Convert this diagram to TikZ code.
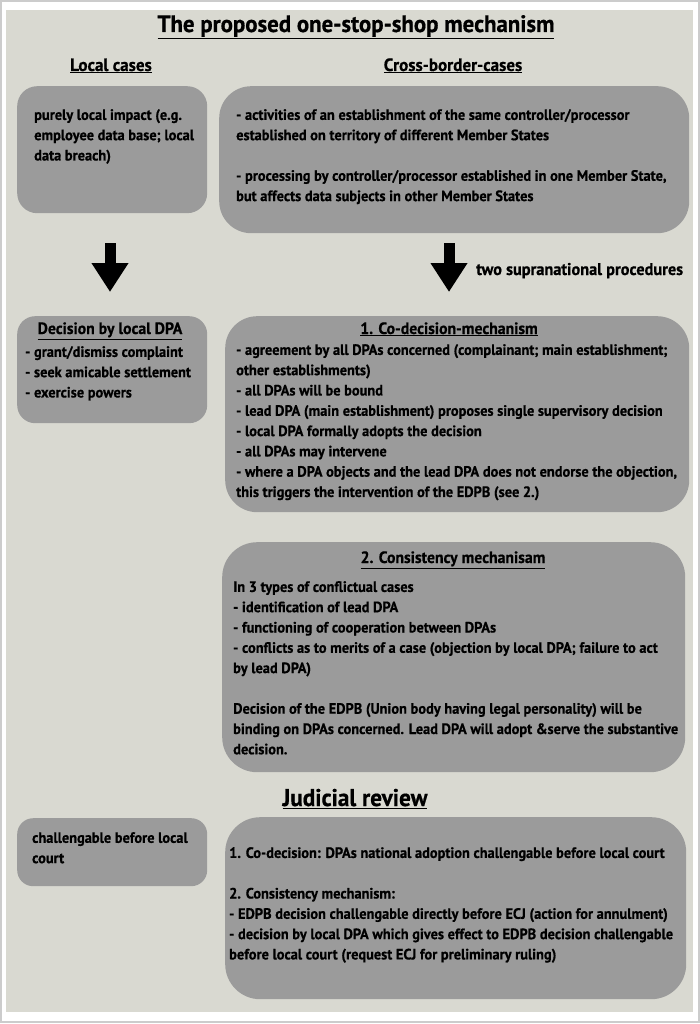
\documentclass[tikz,border=0pt]{standalone}
\usepackage{fontspec}
\setmainfont{PT Sans}[FakeStretch=0.96, BoldFeatures={FakeBold=0.6}]
\usetikzlibrary{arrows.meta}

\definecolor{panel}{HTML}{D9D9D1}
\definecolor{boxgrey}{HTML}{9B9B9B}
\definecolor{frame}{HTML}{CCCCCC}

\tikzset{
	box/.style={fill=boxgrey, draw=none, anchor=north west, inner sep=0pt},
	txt/.style={anchor=north west, inner sep=0pt, align=left, font=\fontsize{15}{20.3}\selectfont\bfseries},
	head/.style={anchor=base, inner sep=0pt, font=\fontsize{16.4}{19}\selectfont\bfseries},
	bigarrow/.style={line width=11pt, -{Triangle[width=35pt,length=29pt]}}
}

\begin{document}
\begin{tikzpicture}[x=1pt,y=-1pt]

	\useasboundingbox (0,0) rectangle (700,1024);
	\fill[white] (0,0) rectangle (700,1024);
	\draw[frame, line width=1.5pt] (1,1) rectangle (699,1022);
	\fill[panel] (6,10) rectangle (693,1012);

	% headings
	\node[head, font=\fontsize{23.8}{26}\selectfont\bfseries] (title) at (356,32) {\underline{The proposed one-stop-shop mechanism}};
	\node[head, font=\fontsize{17.8}{20}\selectfont\bfseries] (localh) at (111,71) {\underline{Local cases}};
	\node[head, font=\fontsize{17.8}{20}\selectfont\bfseries] (crossh) at (453,71) {\underline{Cross-border-cases}};

	% first row
	\node[box, rounded corners=20pt, minimum width=190pt, minimum height=127pt] (local) at (17,86) {};
	\node[box, rounded corners=32pt, minimum width=470pt, minimum height=147pt] (cross) at (219,86) {};
	\node[txt] (localt) at (34,109) {purely local impact (e.g.\\employee data base; local\\data breach)};
	\node[txt] (crosst) at (236,109) {- activities of an establishment of the same controller/processor\\established on territory of different Member States\\[20.3pt]- processing by controller/processor established in one Member State,\\but affects data subjects in other Member States};

	% arrows
	\coordinate (la) at (110,243);
	\coordinate (lb) at (110,292);
	\coordinate (ra) at (449,243);
	\coordinate (rb) at (449,292);
	\draw[bigarrow] (la) -- (lb);
	\draw[bigarrow] (ra) -- (rb);
	\node[head, anchor=base west, font=\fontsize{17}{19}\selectfont\bfseries] (twoproc) at (476,275) {two supranational procedures};

	% second row
	\node[box, rounded corners=18pt, minimum width=190pt, minimum height=107pt] (decision) at (17,316) {};
	\node[box, rounded corners=32pt, minimum width=464pt, minimum height=196pt] (codec) at (225,316) {};
	\node[head] (decisionh) at (110,334) {\underline{Decision by local DPA}};
	\node[txt] (decisiont) at (25,346) {- grant/dismiss complaint\\- seek amicable settlement\\- exercise powers};
	\node[head] (codech) at (449,334) {\underline{1. Co-decision-mechanism}};
	\node[txt] (codect) at (236,344) {- agreement by all DPAs concerned (complainant; main establishment;\\other establishments)\\- all DPAs will be bound\\- lead DPA (main establishment) proposes single supervisory decision\\- local DPA formally adopts the decision\\- all DPAs may intervene\\- where a DPA objects and the lead DPA does not endorse the objection,\\this triggers the intervention of the EDPB (see 2.)};

	% consistency
	\node[box, rounded corners=35pt, minimum width=463pt, minimum height=230pt] (consist) at (222,542) {};
	\node[head] (consisth) at (453,563) {\underline{2. Consistency mechanisam}};
	\node[txt] (consistt) at (233,581) {In 3 types of conflictual cases\\- identification of lead DPA\\- functioning of cooperation between DPAs\\- conflicts as to merits of a case (objection by local DPA; failure to act\\by lead DPA)\\[20.3pt]Decision of the EDPB (Union body having legal personality) will be\\binding on DPAs concerned. Lead DPA will adopt \&serve the substantive\\decision.};

	% judicial review
	\node[head, font=\fontsize{24.2}{26}\selectfont\bfseries] (judh) at (355,806) {\underline{Judicial review}};
	\node[box, rounded corners=16pt, minimum width=190pt, minimum height=68pt] (jleft) at (17,818) {};
	\node[box, rounded corners=35pt, minimum width=461pt, minimum height=182pt] (jright) at (225,817) {};
	\node[txt] (jleftt) at (32,832) {challengable before local\\court};
	\node[txt] (jrightt) at (229,847) {1. Co-decision: DPAs national adoption challengable before local court\\[20.3pt]2. Consistency mechanism:\\- EDPB decision challengable directly before ECJ (action for annulment)\\- decision by local DPA which gives effect to EDPB decision challengable\\before local court (request ECJ for preliminary ruling)};

\end{tikzpicture}
\end{document}
